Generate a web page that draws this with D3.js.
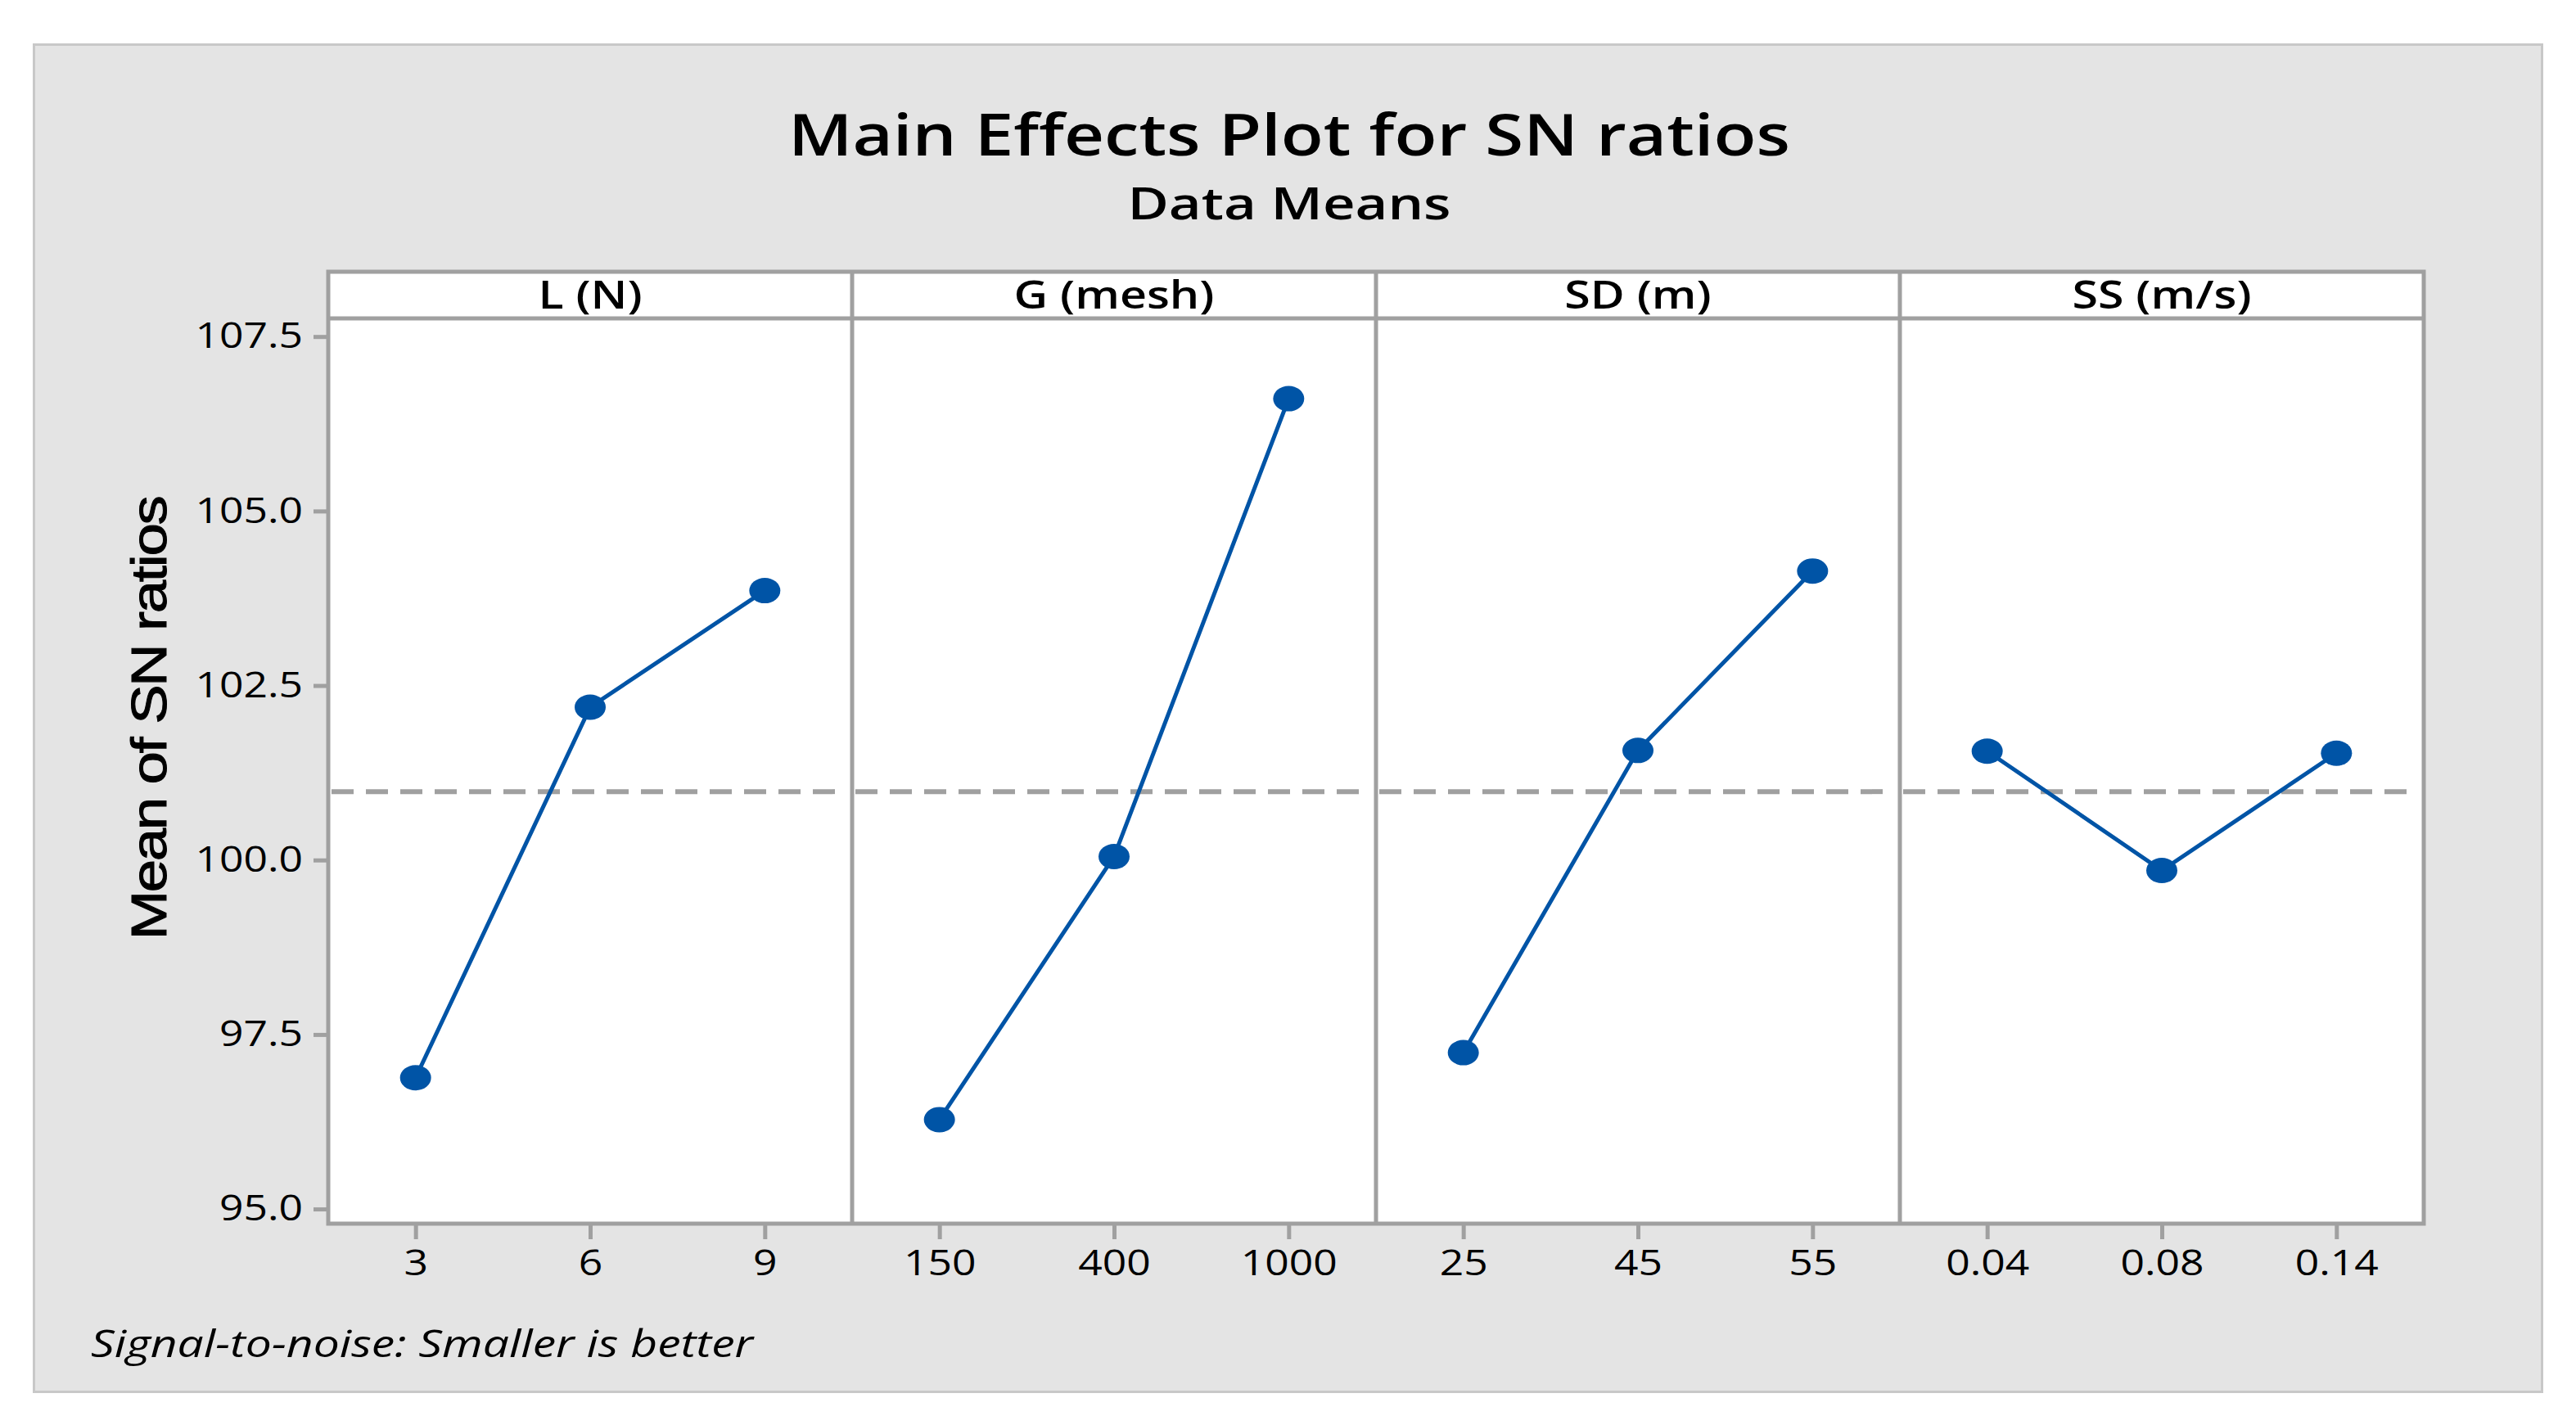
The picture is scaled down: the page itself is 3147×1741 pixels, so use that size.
<!DOCTYPE html>
<html>
<head>
<meta charset="utf-8">
<script src="https://cdn.jsdelivr.net/npm/d3@7"></script>
<style>
  body { margin: 0; background: #fff; }
  text { font-family: "Open Sans", "Noto Sans", sans-serif; fill: #000; }
</style>
</head>
<body>
<div id="chart"></div>
<script>
// Factors and their levels
const factors = ["L (N)", "G (mesh)", "SD (m)", "SS (m/s)"];
const levelsL = ["3", "6", "9"];
const levelsG = ["150", "400", "1000"];
const levelsSD = ["25", "45", "55"];
const levelsSS = ["0.04", "0.08", "0.14"];

// Mean of SN ratios at each level
const snL = [96.88, 102.19, 103.86];
const snG = [96.28, 100.05, 106.61];
const snSD = [97.24, 101.57, 104.14];
const snSS = [101.56, 99.85, 101.53];

const yTicks = [95.0, 97.5, 100.0, 102.5, 105.0, 107.5];

const levels = [levelsL, levelsG, levelsSD, levelsSS];
const values = [snL, snG, snSD, snSS];

// grand mean for the reference line
const grandMean = d3.mean([].concat(snL, snG, snSD, snSS));

const W = 3147, H = 1741;
const left = 401, panelW = 640, headTop = 332, plotTop = 389, plotBottom = 1495;
const frame = "#a0a0a0", blue = "#0054a6";
const stretch = 1.2; // the source text is a bit wider than Open Sans

const svg = d3.select("#chart").append("svg")
    .attr("width", W)
    .attr("height", H);

// Gray background with light border
svg.append("rect")
    .attr("x", 41.5).attr("y", 54.5)
    .attr("width", 3064).attr("height", 1646)
    .attr("fill", "#e4e4e4")
    .attr("stroke", "#c8c8c8")
    .attr("stroke-width", 3);

// Titles
svg.append("text")
    .attr("transform", `translate(1575,190) scale(1.2,1)`)
    .attr("text-anchor", "middle")
    .style("font-size", "71px")
    .style("font-weight", 600)
    .text("Main Effects Plot for SN ratios");

svg.append("text")
    .attr("transform", `translate(1575,268) scale(1.25,1)`)
    .attr("text-anchor", "middle")
    .style("font-size", "55px")
    .style("font-weight", 600)
    .text("Data Means");

// Shared y scale
const y = d3.scaleLinear().domain([94.79, 107.76]).range([plotBottom, plotTop]);

// White panel area (header + plot)
svg.append("rect")
    .attr("x", left).attr("y", headTop)
    .attr("width", panelW * 4).attr("height", plotBottom - headTop)
    .attr("fill", "#fff");

// Y axis
const yAxis = svg.append("g")
    .attr("transform", `translate(${left - 2},0)`)
    .call(d3.axisLeft(y).tickValues(yTicks).tickFormat(d3.format(".1f")).tickSize(16).tickPadding(13));
yAxis.select(".domain").remove();
yAxis.selectAll(".tick line").attr("stroke", frame).attr("stroke-width", 5);
yAxis.selectAll(".tick text")
    .attr("x", -29 / stretch)
    .attr("transform", `scale(${stretch},1)`)
    .style("font-size", "43px")
    .style("font-family", "'Open Sans', sans-serif")
    .attr("fill", "#000");

svg.append("text")
    .attr("transform", "translate(203,878) rotate(-90) scale(1.17,1)")
    .attr("text-anchor", "middle")
    .style("font-family", "'Liberation Sans', Arial, sans-serif")
    .style("font-size", "62px")
    .style("letter-spacing", "-2px")
    .attr("stroke", "#000")
    .attr("stroke-width", 1)
    .text("Mean of SN ratios");

// Draw each factor panel
factors.forEach((name, i) => {
    const x0 = left + i * panelW;
    const x = d3.scalePoint().domain(levels[i]).range([x0, x0 + panelW]).padding(0.5);
    const pts = levels[i].map((lv, j) => ({ lv: lv, v: values[i][j] }));
    const g = svg.append("g");

    // header label
    g.append("text")
        .attr("transform", `translate(${x0 + panelW / 2},377) scale(1.22,1)`)
        .attr("text-anchor", "middle")
        .style("font-size", "47px")
        .style("font-weight", 600)
        .text(name);

    // reference line at the grand mean
    g.append("line")
        .attr("x1", x0 + 4).attr("x2", x0 + panelW - 14)
        .attr("y1", y(grandMean)).attr("y2", y(grandMean))
        .attr("stroke", frame)
        .attr("stroke-width", 6)
        .attr("stroke-dasharray", "27,15");

    // mean line and points
    g.append("path")
        .datum(pts)
        .attr("fill", "none")
        .attr("stroke", blue)
        .attr("stroke-width", 5)
        .attr("d", d3.line().x(d => x(d.lv)).y(d => y(d.v)));

    g.selectAll("ellipse")
        .data(pts)
        .enter()
        .append("ellipse")
        .attr("cx", d => x(d.lv))
        .attr("cy", d => y(d.v))
        .attr("rx", 19)
        .attr("ry", 15.5)
        .attr("fill", blue);

    // x axis
    const xAxis = svg.append("g")
        .attr("transform", `translate(0,${plotBottom + 2})`)
        .call(d3.axisBottom(x).tickSize(17).tickPadding(13));
    xAxis.select(".domain").remove();
    xAxis.selectAll(".tick line").attr("stroke", frame).attr("stroke-width", 5);
    xAxis.selectAll(".tick text")
        .attr("transform", `scale(${stretch},1)`)
        .style("font-size", "43px")
        .style("font-family", "'Open Sans', sans-serif")
        .attr("fill", "#000");
});

// Panel frame lines
const fr = svg.append("g").attr("stroke", frame).attr("stroke-width", 5).attr("fill", "none");
fr.append("rect")
    .attr("x", left).attr("y", headTop)
    .attr("width", panelW * 4).attr("height", plotBottom - headTop);
fr.append("line")
    .attr("x1", left).attr("x2", left + panelW * 4)
    .attr("y1", plotTop).attr("y2", plotTop);
fr.selectAll(".div")
    .data(d3.range(1, 4))
    .enter()
    .append("line")
    .attr("x1", d => left + d * panelW).attr("x2", d => left + d * panelW)
    .attr("y1", headTop).attr("y2", plotBottom);

// Footnote
svg.append("text")
    .attr("transform", "translate(111,1658) scale(1.24,1)")
    .style("font-size", "46px")
    .style("font-style", "italic")
    .text("Signal-to-noise: Smaller is better");
</script>
</body>
</html>
